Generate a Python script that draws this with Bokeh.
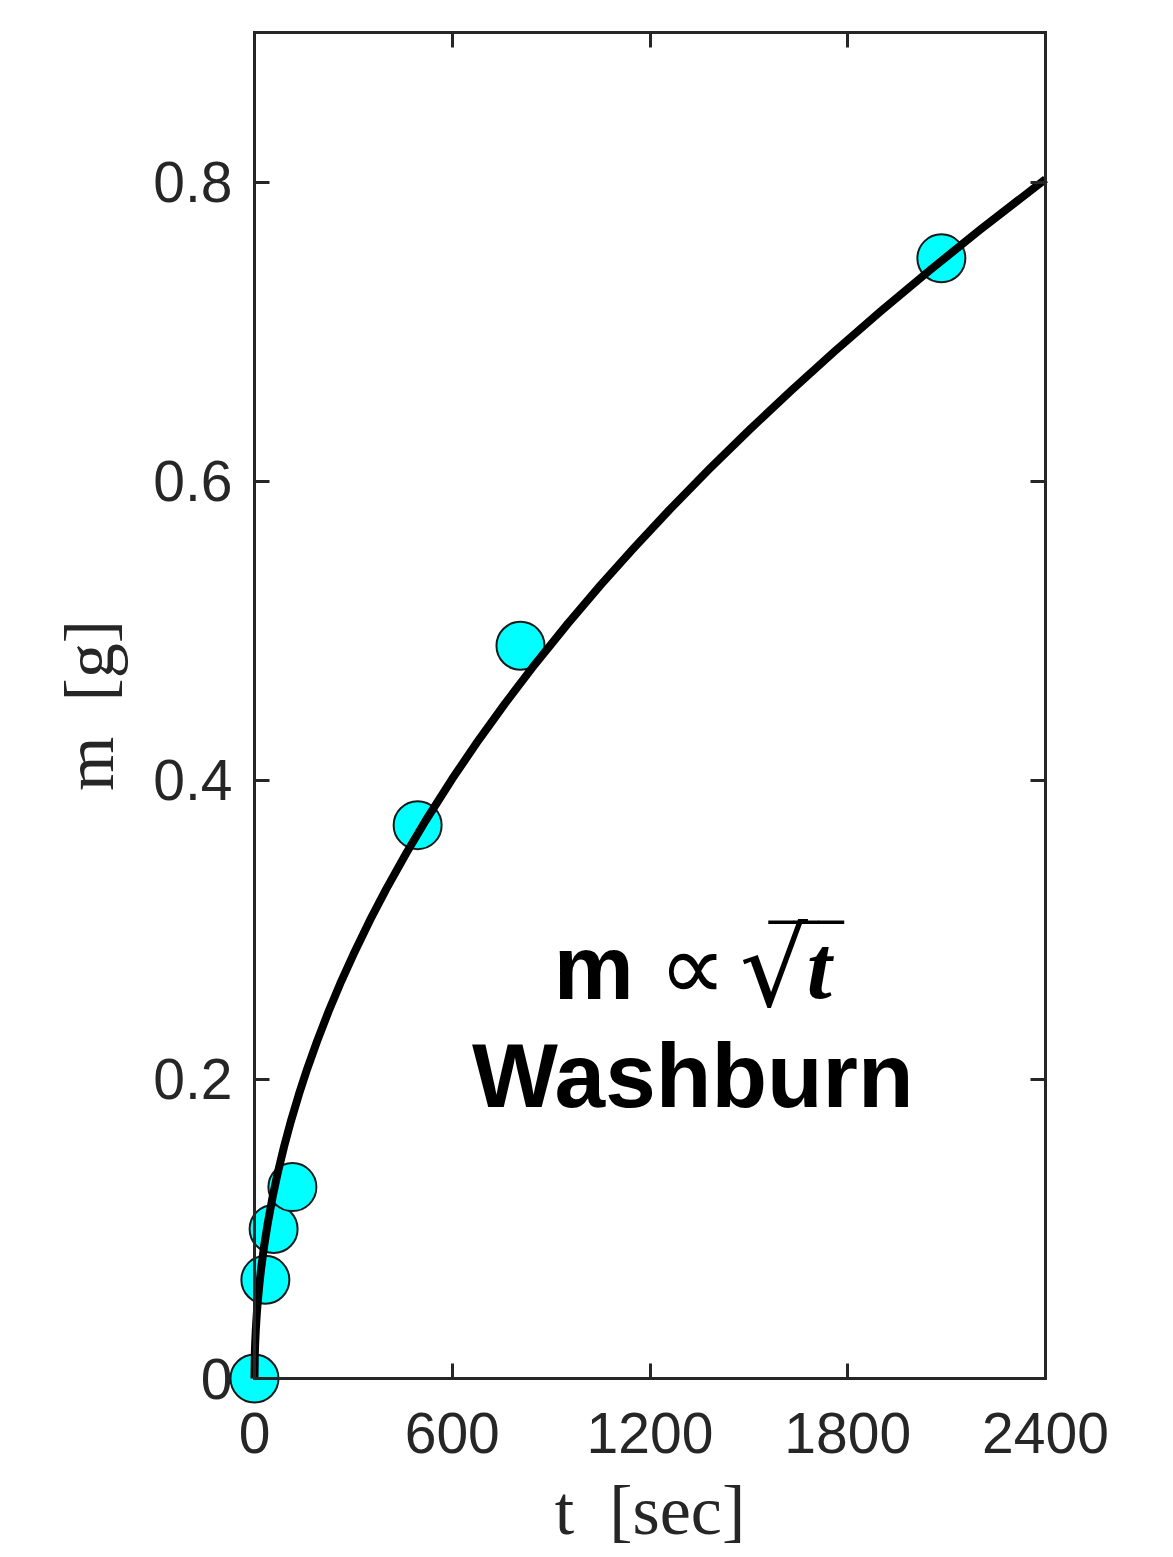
from bokeh.plotting import figure
from bokeh.models import Range1d, LinearAxis, FixedTicker
from bokeh.core.properties import value
from bokeh.embed import file_html
from bokeh.resources import INLINE

# measured data (t in sec, m in g)
t_data = [0, 33, 58, 115, 495, 807, 2084]
m_data = [0.0, 0.066, 0.100, 0.128, 0.370, 0.490, 0.749]

# fitted curve m ~ sqrt(t)
fit_t = [0, 1, 2, 4, 7, 10, 15, 20, 30, 40, 55, 70, 90, 110, 135, 160, 190, 225, 260, 300,
         350, 400, 460, 520, 600, 680, 760, 850, 950, 1050, 1150, 1260, 1380, 1500, 1630,
         1760, 1900, 2050, 2200, 2400]
fit_m = [0.0, 0.0164, 0.0232, 0.0327, 0.0433, 0.0518, 0.0634, 0.0732, 0.0897, 0.1035,
         0.1214, 0.1370, 0.1553, 0.1717, 0.1902, 0.2071, 0.2256, 0.2456, 0.2640, 0.2835,
         0.3063, 0.3274, 0.3511, 0.3733, 0.4010, 0.4269, 0.4513, 0.4773, 0.5046, 0.5305,
         0.5551, 0.5811, 0.6081, 0.6340, 0.6609, 0.6868, 0.7136, 0.7412, 0.7678, 0.8020]

x_ticks = [0, 600, 1200, 1800, 2400]
y_ticks = [0, 0.2, 0.4, 0.6, 0.8]
y_tick_labels = ["0", "0.2", "0.4", "0.6", "0.8"]
x_tick_labels = ["0", "600", "1200", "1800", "2400"]

x_label = "t\u2002[sec]"
y_label = "m\u2002[g]"
ann_line1 = ["m", "\u221d", "\u221a", "t", "___"]
ann_line2 = "Washburn"
ann_x = 1330
ann_y1 = 0.2513
ann_y2 = 0.179

AX = "#262626"

p = figure(frame_width=1173, frame_height=1525,
           x_range=Range1d(-770.6, 2788.3), y_range=Range1d(-0.11965, 0.9),
           output_backend="svg", toolbar_location=None,
           x_axis_location=None, y_axis_location=None,
           min_border_left=0, min_border_top=32, min_border_right=0, min_border_bottom=0)
p.outline_line_color = None
for g in p.grid:
    g.visible = False
p.background_fill_color = "white"
p.border_fill_color = "white"


def style_axis(ax):
    ax.axis_line_color = AX
    ax.axis_line_width = 3
    ax.axis_line_cap = "square"
    ax.major_tick_line_color = AX
    ax.major_tick_line_width = 3
    ax.major_tick_in = 15
    ax.major_tick_out = 0
    ax.minor_tick_line_color = AX
    ax.minor_tick_line_width = 3
    ax.minor_tick_in = 15
    ax.minor_tick_out = 0
    ax.major_label_text_font = "Liberation Sans"
    ax.major_label_text_font_size = "57px"
    ax.major_label_text_color = AX
    ax.axis_label_text_font = "Liberation Serif"
    ax.axis_label_text_font_size = "70px"
    ax.axis_label_text_font_style = "normal"
    ax.axis_label_text_color = AX


left = LinearAxis(fixed_location=0, bounds=(0, 0.9), ticker=FixedTicker(ticks=y_ticks),
                  major_label_overrides={k: v for k, v in zip(y_ticks, y_tick_labels)},
                  axis_label=y_label)
style_axis(left)
left.major_label_standoff = 22
left.axis_label_standoff = 22
p.add_layout(left, "left")

bottom = LinearAxis(fixed_location=0, bounds=(0, 2400), ticker=FixedTicker(ticks=x_ticks),
                    major_label_overrides={k: v for k, v in zip(x_ticks, x_tick_labels)},
                    axis_label=x_label)
style_axis(bottom)
bottom.major_label_standoff = 34
bottom.axis_label_standoff = 16
p.add_layout(bottom, "below")

# box top / right: tick marks only (minor ticks carry no labels)
top = LinearAxis(bounds=(0, 2400), ticker=FixedTicker(ticks=[], minor_ticks=x_ticks))
style_axis(top)
p.add_layout(top, "above")

right = LinearAxis(fixed_location=2400, bounds=(0, 0.9),
                   ticker=FixedTicker(ticks=[], minor_ticks=y_ticks))
style_axis(right)
p.add_layout(right, "right")

p.scatter(t_data, m_data, size=48, fill_color="#00FFFF", line_color="#1a1a1a", line_width=2)
p.line(fit_t, fit_m, line_color="black", line_width=8, line_join="round")

# annotation: "m ∝ √t" and "Washburn"
x_offs = [-139, -34, 47, 114, 76]
y_offs = [-35, -36, -34, -35, -108]
fonts = ["Liberation Sans", "DejaVu Sans", "DejaVu Serif", "Liberation Serif", "DejaVu Sans"]
styles = ["bold", "normal", "normal", "bold italic", "normal"]
sizes = ["90px", "95px", "107px", "90px", "50px"]
for txt, xo, yo, fnt, sty, sz in zip(ann_line1, x_offs, y_offs, fonts, styles, sizes):
    p.text(x=[ann_x], y=[ann_y1], text=[txt], x_offset=xo, y_offset=yo, text_font=value(fnt),
           text_font_style=sty, text_font_size=sz, text_align="left",
           text_baseline="alphabetic", text_color="black")
p.text(x=[ann_x], y=[ann_y2], text=[ann_line2], y_offset=-35, text_font=value("Liberation Sans"),
       text_font_style="bold", text_font_size="91px", text_align="center",
       text_baseline="alphabetic", text_color="black")

open("out.html", "w").write(file_html(p, INLINE))
